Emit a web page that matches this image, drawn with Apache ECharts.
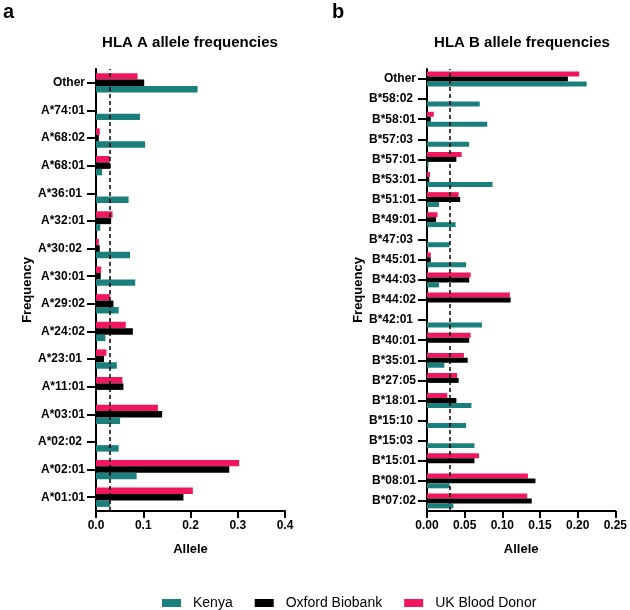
<!DOCTYPE html>
<html>
<head>
<meta charset="utf-8">
<script src="https://cdn.jsdelivr.net/npm/echarts@6/dist/echarts.min.js"></script>
<style>
  html, body { margin: 0; padding: 0; background: #fff; }
  #chart { width: 630px; height: 610px; }
</style>
</head>
<body>
<div id="chart"></div>
<script>
// HLA A alleles, bottom to top
const allelesA = ['A*01:01', 'A*02:01', 'A*02:02', 'A*03:01', 'A*11:01', 'A*23:01', 'A*24:02', 'A*29:02',
  'A*30:01', 'A*30:02', 'A*32:01', 'A*36:01', 'A*68:01', 'A*68:02', 'A*74:01', 'Other']
const kenyaA = [0.030, 0.086, 0.048, 0.051, 0, 0.044, 0.020, 0.048, 0.083, 0.072, 0.009, 0.069, 0.013, 0.104, 0.093, 0.215]
const oxfordA = [0.185, 0.282, 0, 0.140, 0.058, 0.017, 0.078, 0.037, 0.010, 0.008, 0.032, 0, 0.030, 0.006, 0, 0.102]
const ukA = [0.205, 0.303, 0, 0.131, 0.056, 0.022, 0.063, 0.030, 0.011, 0.006, 0.035, 0, 0.029, 0.008, 0, 0.088]

// HLA B alleles, bottom to top
const allelesB = ['B*07:02', 'B*08:01', 'B*15:01', 'B*15:03', 'B*15:10', 'B*18:01', 'B*27:05', 'B*35:01',
  'B*40:01', 'B*42:01', 'B*44:02', 'B*44:03', 'B*45:01', 'B*47:03', 'B*49:01', 'B*51:01', 'B*53:01',
  'B*57:01', 'B*57:03', 'B*58:01', 'B*58:02', 'Other']
const kenyaB = [0.035, 0.030, 0, 0.063, 0.052, 0.059, 0, 0.023, 0, 0.073, 0, 0.016, 0.052, 0.030, 0.038,
  0.016, 0.087, 0.002, 0.056, 0.080, 0.070, 0.212]
const oxfordB = [0.139, 0.144, 0.063, 0, 0, 0.039, 0.042, 0.054, 0.056, 0, 0.111, 0.056, 0.005, 0, 0.012,
  0.044, 0.003, 0.039, 0, 0.005, 0, 0.187]
const ukB = [0.133, 0.134, 0.069, 0, 0, 0.027, 0.040, 0.049, 0.058, 0, 0.110, 0.058, 0.005, 0, 0.014,
  0.042, 0.004, 0.046, 0, 0.009, 0, 0.202]

// labels that sit a little left of the tick in the original figure
const shiftedLabels = ['A*02:02', 'A*23:01', 'A*30:02', 'A*36:01',
  'B*15:03', 'B*15:10', 'B*42:01', 'B*47:03', 'B*57:03', 'B*58:02']

const cutoff = 0.03
const teal = '#1b807b'
const pink = '#f0175e'
const font = '"Liberation Sans", Arial, sans-serif'

function xAxisFor (gridIndex, max, interval, digits) {
  return {
    gridIndex: gridIndex,
    type: 'value',
    min: 0,
    max: max,
    interval: interval,
    name: 'Allele',
    nameLocation: 'middle',
    nameGap: 32,
    nameTextStyle: { fontFamily: font, fontWeight: 'bold', fontSize: 13, color: '#000' },
    splitLine: { show: false },
    axisLine: { show: true, lineStyle: { color: '#000', width: 2 } },
    axisTick: { show: true, length: 7, lineStyle: { color: '#000', width: 2 } },
    axisLabel: {
      fontFamily: font, fontWeight: 'bold', fontSize: 12, color: '#000', margin: 9,
      formatter: function (v) { return v.toFixed(digits) }
    }
  }
}

function yAxisFor (gridIndex, cats, gap) {
  return {
    gridIndex: gridIndex,
    type: 'category',
    data: cats,
    name: 'Frequency',
    nameLocation: 'middle',
    nameGap: gap,
    nameRotate: 90,
    nameTextStyle: { fontFamily: font, fontWeight: 'bold', fontSize: 13, color: '#000' },
    axisLine: { show: true, lineStyle: { color: '#000', width: 2 } },
    axisTick: { show: true, alignWithLabel: true, length: 9, lineStyle: { color: '#000', width: 2 } },
    axisLabel: {
      fontFamily: font, fontWeight: 'bold', fontSize: 12, color: '#000', margin: 11, interval: 0,
      formatter: function (v) {
        return shiftedLabels.indexOf(v) >= 0 ? '{s|' + v + '}' : v
      },
      rich: {
        s: { fontFamily: font, fontWeight: 'bold', fontSize: 12, color: '#000', padding: [0, 3, 0, 0] }
      }
    }
  }
}

function barSeries (name, data, color, idx, gapPct) {
  let s = {
    name: name,
    type: 'bar',
    xAxisIndex: idx,
    yAxisIndex: idx,
    data: data,
    barGap: '0%',
    barCategoryGap: gapPct,
    itemStyle: { color: color },
    silent: true
  }
  return s
}

function cutoffLine () {
  return {
    symbol: 'none',
    silent: true,
    label: { show: false },
    lineStyle: { color: '#000', type: [4, 3], width: 1.5 },
    data: [{ xAxis: cutoff }]
  }
}

let kA = barSeries('Kenya', kenyaA, teal, 0, '30%')
kA.markLine = cutoffLine()
let kB = barSeries('Kenya', kenyaB, teal, 1, '26%')
kB.markLine = cutoffLine()

let option = {
  animation: false,
  textStyle: { fontFamily: font },
  grid: [
    { left: 96, top: 69, width: 189, height: 442 },
    { left: 427, top: 69, width: 191, height: 442 }
  ],
  xAxis: [xAxisFor(0, 0.4, 0.1, 1), xAxisFor(1, 0.25, 0.05, 2)],
  yAxis: [yAxisFor(0, allelesA, 62), yAxisFor(1, allelesB, 60)],
  legend: {
    data: ['Kenya', 'Oxford Biobank', 'UK Blood Donor'],
    left: 157,
    top: 591,
    itemWidth: 19,
    itemHeight: 8,
    itemGap: 22,
    icon: 'rect',
    textStyle: { fontFamily: font, fontSize: 14, color: '#000', padding: [0, 0, 0, 7] }
  },
  graphic: [
    { type: 'text', left: 3, top: 2, style: { text: 'a', font: 'bold 20px ' + font, fill: '#000' } },
    { type: 'text', left: 332, top: 2, style: { text: 'b', font: 'bold 20px ' + font, fill: '#000' } },
    { type: 'text', x: 190, y: 43, style: { text: 'HLA A allele frequencies', font: 'bold 15px ' + font, fill: '#000', textAlign: 'center', textVerticalAlign: 'middle' } },
    { type: 'text', x: 522, y: 43, style: { text: 'HLA B allele frequencies', font: 'bold 15px ' + font, fill: '#000', textAlign: 'center', textVerticalAlign: 'middle' } }
  ],
  // pink first so it sits on top within each allele, then black, then teal
  series: [
    barSeries('UK Blood Donor', ukA, pink, 0, '30%'),
    barSeries('Oxford Biobank', oxfordA, '#000', 0, '30%'),
    kA,
    barSeries('UK Blood Donor', ukB, pink, 1, '26%'),
    barSeries('Oxford Biobank', oxfordB, '#000', 1, '26%'),
    kB
  ]
}

let myChart = echarts.init(document.getElementById('chart'))
myChart.setOption(option)
</script>
</body>
</html>
